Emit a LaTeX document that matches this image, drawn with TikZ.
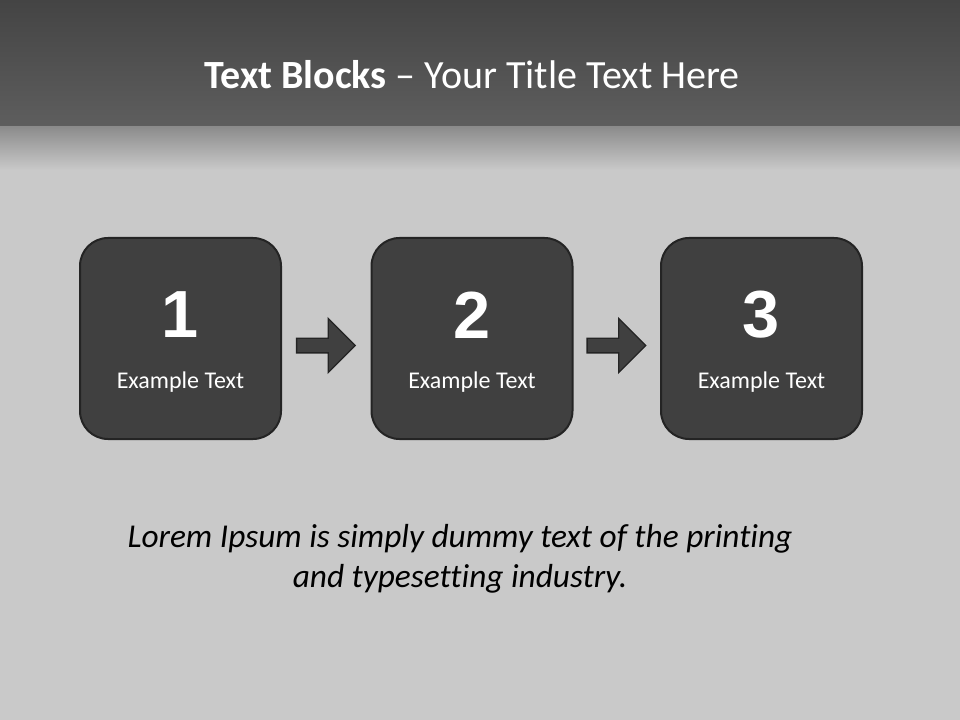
\documentclass[tikz,border=0pt]{standalone}
\usepackage{fontspec}
\setmainfont{Carlito}[RawFeature=-liga]
\newfontfamily\numfont{Liberation Sans}
\usetikzlibrary{shapes.arrows}
\definecolor{cfond}{RGB}{201,201,201}
\definecolor{chaut}{RGB}{68,68,68}
\definecolor{cbande}{RGB}{94,94,94}
\definecolor{cfondu}{RGB}{140,140,140}
\definecolor{cbloc}{RGB}{64,64,64}
\definecolor{cbord}{RGB}{36,36,36}

\begin{document}
\begin{tikzpicture}[x=0.75pt, y=-0.75pt,
  bloc/.style={draw=cbord, line width=1.5pt, fill=cbloc, rounded corners=21pt,
    minimum width=150.75pt, minimum height=150.75pt, inner sep=0pt},
  fleche/.style={single arrow, draw=cbord, line width=1pt, fill=cbloc,
    inner xsep=0pt, inner ysep=5pt, minimum height=44pt,
    single arrow head extend=14.8pt, xshift=-3pt, yshift=-5.25pt}]
\useasboundingbox (0,0) rectangle (960,720);
\fill[cfond] (0,0) rectangle (960,720);
\shade[top color=chaut, bottom color=cbande] (0,0) rectangle (960,127);
\shade[top color=cfondu, bottom color=cfond] (0,127) rectangle (960,170);
\node[white, font=\fontsize{30}{36}\selectfont] (titre) at (472,75) {\textbf{Text Blocks} -- Your Title Text Here};
\foreach \n/\x in {1/180.5, 2/472, 3/761.5} {
  \node[bloc] (b\n) at (\x,338.5) {};
  \node[white, font=\numfont\bfseries\fontsize{50}{54}\selectfont] (num\n) at (\x,315) {\n};
  \node[white, font=\fontsize{18}{22}\selectfont] (txt\n) at (\x,382) {Example Text};
}
\path (b1) -- node[fleche] (f1) {} (b2);
\path (b2) -- node[fleche] (f2) {} (b3);
\node[align=center, font=\itshape\fontsize{25}{30}\selectfont] (lorem) at (460,559)
  {Lorem Ipsum is simply dummy text of the printing\\and typesetting industry.};
\end{tikzpicture}
\end{document}
